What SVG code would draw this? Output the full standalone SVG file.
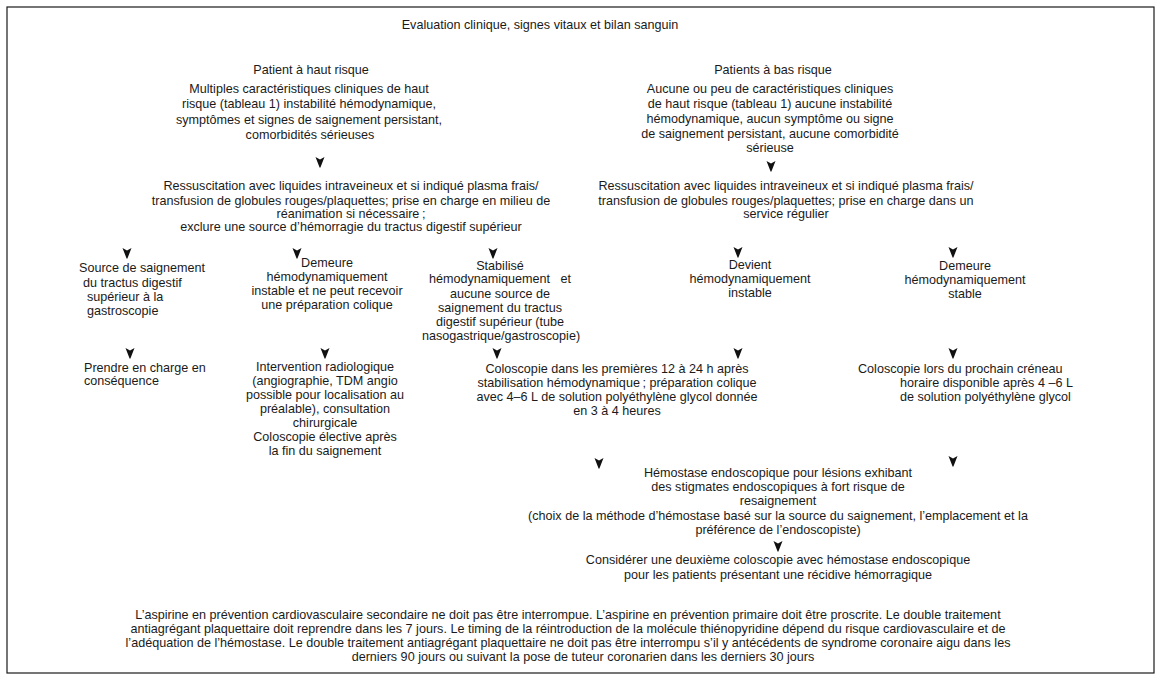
<svg xmlns="http://www.w3.org/2000/svg" xmlns:xlink="http://www.w3.org/1999/xlink" width="1162" height="680" viewBox="0 0 1162 680">
<style>
.t{font-family:"Liberation Sans",Arial,sans-serif;font-size:12.6px;fill:#1a1a1a}
.m{text-anchor:middle}
.pre{white-space:pre}
.ah{fill:#111111}
</style>
<defs>
<path id="ah" class="ah" d="M-4.5,0 L0,2.5 L4.5,0 L0.6,10 L0,11 L-0.6,10 Z"/>
</defs>
<rect x="0" y="0" width="1162" height="680" fill="#ffffff"/>
<rect x="7" y="7" width="1147" height="666" fill="none" stroke="#1a1a1a" stroke-width="1.2"/>

<g id="title"><text class="t m" x="540" y="29">Evaluation clinique, signes vitaux et bilan sanguin</text></g>

<g id="high-risk">
<text class="t m" x="311" y="74">Patient à haut risque</text>
<text class="t m" x="309" y="93">Multiples caractéristiques cliniques de haut</text>
<text class="t m" x="309" y="108">risque (tableau 1) instabilité hémodynamique,</text>
<text class="t m" x="309" y="124">symptômes et signes de saignement persistant,</text>
<text class="t m" x="310" y="139">comorbidités sérieuses</text>
</g>

<g id="low-risk">
<text class="t m" x="773" y="74">Patients à bas risque</text>
<text class="t m" x="770" y="93">Aucune ou peu de caractéristiques cliniques</text>
<text class="t m" x="770" y="108">de haut risque (tableau 1) aucune instabilité</text>
<text class="t m" x="770" y="123">hémodynamique, aucun symptôme ou signe</text>
<text class="t m" x="770" y="138">de saignement persistant, aucune comorbidité</text>
<text class="t m" x="770" y="152">sérieuse</text>
</g>

<g id="resus-high">
<text class="t m" x="351" y="190">Ressuscitation avec liquides intraveineux et si indiqué plasma frais/</text>
<text class="t m" x="351" y="205">transfusion de globules rouges/plaquettes; prise en charge en milieu de</text>
<text class="t m" x="351" y="218">réanimation si nécessaire&#8201;;</text>
<text class="t m" x="351" y="231">exclure une source d’hémorragie du tractus digestif supérieur</text>
</g>

<g id="resus-low">
<text class="t m" x="786" y="190">Ressuscitation avec liquides intraveineux et si indiqué plasma frais/</text>
<text class="t m" x="786" y="205">transfusion de globules rouges/plaquettes; prise en charge dans un</text>
<text class="t m" x="786" y="218">service régulier</text>
</g>

<g id="upper-source">
<text class="t" x="79" y="272">Source de saignement</text>
<text class="t" x="83" y="287">du tractus digestif</text>
<text class="t" x="87" y="301">supérieur à la</text>
<text class="t" x="87" y="315">gastroscopie</text>
</g>

<g id="unstable">
<text class="t m" x="327" y="267">Demeure</text>
<text class="t m" x="327" y="281">hémodynamiquement</text>
<text class="t m" x="327" y="295">instable et ne peut recevoir</text>
<text class="t m" x="327" y="309">une préparation colique</text>
</g>

<g id="stabilized">
<text class="t m" x="500" y="270">Stabilisé</text>
<text class="t m pre" x="500" y="283">hémodynamiquement   et</text>
<text class="t m" x="500" y="298">aucune source de</text>
<text class="t m" x="500" y="312">saignement du tractus</text>
<text class="t m" x="500" y="326">digestif supérieur (tube</text>
<text class="t m" x="501" y="340">nasogastrique/gastroscopie)</text>
</g>

<g id="becomes-unstable">
<text class="t m" x="750" y="269">Devient</text>
<text class="t m" x="750" y="283">hémodynamiquement</text>
<text class="t m" x="750" y="297">instable</text>
</g>

<g id="remains-stable">
<text class="t m" x="965" y="270">Demeure</text>
<text class="t m" x="965" y="284">hémodynamiquement</text>
<text class="t m" x="965" y="298">stable</text>
</g>

<g id="manage">
<text class="t" x="84" y="372">Prendre en charge en</text>
<text class="t" x="84" y="385">conséquence</text>
</g>

<g id="radiology">
<text class="t m" x="325" y="371">Intervention radiologique</text>
<text class="t m" x="325" y="385">(angiographie, TDM angio</text>
<text class="t m" x="325" y="399">possible pour localisation au</text>
<text class="t m" x="325" y="413">préalable), consultation</text>
<text class="t m" x="325" y="427">chirurgicale</text>
<text class="t m" x="325" y="441">Coloscopie élective après</text>
<text class="t m" x="325" y="455">la fin du saignement</text>
</g>

<g id="colo-early">
<text class="t m" x="617" y="373">Coloscopie dans les premières 12 à 24 h après</text>
<text class="t m" x="617" y="387">stabilisation hémodynamique&#8201;; préparation colique</text>
<text class="t m" x="617" y="401">avec 4–6 L de solution polyéthylène glycol donnée</text>
<text class="t m" x="617" y="415">en 3 à 4 heures</text>
</g>

<g id="colo-next">
<text class="t" x="858" y="373">Coloscopie lors du prochain créneau</text>
<text class="t" x="900" y="387">horaire disponible après 4 –6 L</text>
<text class="t" x="900" y="401">de solution polyéthylène glycol</text>
</g>

<g id="hemostasis">
<text class="t m" x="778" y="477">Hémostase endoscopique pour lésions exhibant</text>
<text class="t m" x="778" y="491">des stigmates endoscopiques à fort risque de</text>
<text class="t m" x="778" y="505">resaignement</text>
<text class="t m" x="778" y="520">(choix de la méthode d’hémostase basé sur la source du saignement, l’emplacement et la</text>
<text class="t m" x="778" y="534">préférence de l’endoscopiste)</text>
</g>

<g id="second-colo">
<text class="t m" x="778" y="564">Considérer une deuxième coloscopie avec hémostase endoscopique</text>
<text class="t m" x="778" y="579">pour les patients présentant une récidive hémorragique</text>
</g>

<g id="note">
<text class="t m" x="568" y="619">L’aspirine en prévention cardiovasculaire secondaire ne doit pas être interrompue. L’aspirine en prévention primaire doit être proscrite. Le double traitement</text>
<text class="t m" x="568" y="633">antiagrégant plaquettaire doit reprendre dans les 7 jours. Le timing de la réintroduction de la molécule thiénopyridine dépend du risque cardiovasculaire et de</text>
<text class="t m" x="568" y="647">l’adéquation de l’hémostase. Le double traitement antiagrégant plaquettaire ne doit pas être interrompu s’il y antécédents de syndrome coronaire aigu dans les</text>
<text class="t m" x="583" y="661">derniers 90 jours ou suivant la pose de tuteur coronarien dans les derniers 30 jours</text>
</g>

<g id="connectors">
<use xlink:href="#ah" transform="translate(320,157)"/>
<use xlink:href="#ah" transform="translate(771,161)"/>
<use xlink:href="#ah" transform="translate(127,248)"/>
<use xlink:href="#ah" transform="translate(297,248)"/>
<use xlink:href="#ah" transform="translate(493,248)"/>
<use xlink:href="#ah" transform="translate(738,247)"/>
<use xlink:href="#ah" transform="translate(953,247)"/>
<use xlink:href="#ah" transform="translate(130,348)"/>
<use xlink:href="#ah" transform="translate(325,348)"/>
<use xlink:href="#ah" transform="translate(497,348)"/>
<use xlink:href="#ah" transform="translate(738,348)"/>
<use xlink:href="#ah" transform="translate(953,348)"/>
<use xlink:href="#ah" transform="translate(599,458)"/>
<use xlink:href="#ah" transform="translate(953,456)"/>
<use xlink:href="#ah" transform="translate(778,541)"/>
</g>
</svg>
